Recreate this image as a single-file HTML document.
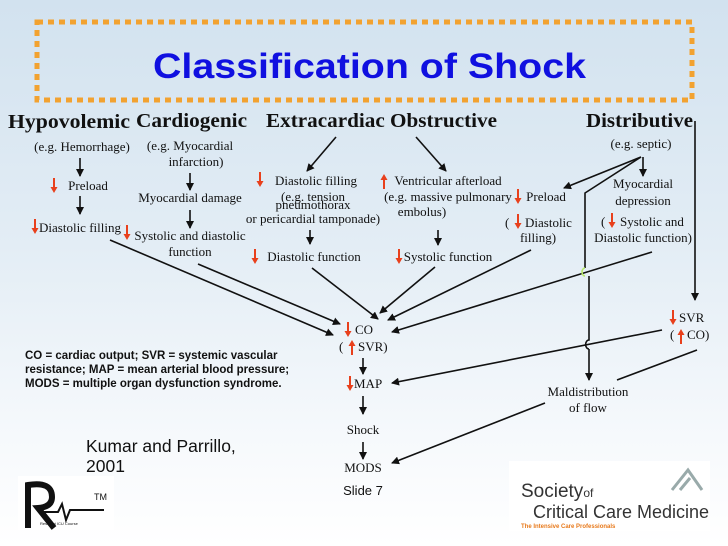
<!DOCTYPE html>
<html><head><meta charset="utf-8"><style>
html,body{margin:0;padding:0;}
body{width:728px;height:546px;overflow:hidden;background:linear-gradient(#d2e2ef 0%,#e3edf5 45%,#f6f9fc 80%,#fff 100%);}
svg{display:block}
.s{font-family:"Liberation Serif",serif;font-size:13px;fill:#111}
.h{font-family:"Liberation Serif",serif;font-size:20.5px;font-weight:bold;fill:#111}
.b{font-family:"Liberation Sans",sans-serif;font-size:11.5px;font-weight:bold;fill:#111}
</style></head><body>
<svg width="728" height="546" viewBox="0 0 728 546" xmlns="http://www.w3.org/2000/svg">
<defs>
<marker id="a" markerWidth="8" markerHeight="8" refX="7" refY="4" orient="auto" markerUnits="userSpaceOnUse"><path d="M0,0 L8,4 L0,8 z" fill="#111"/></marker>
<g id="rd"><line x1="0" y1="-8" x2="0" y2="2" stroke="#e8401c" stroke-width="2"/><path d="M-3.5,1 L3.5,1 L0,7 z" fill="#e8401c"/></g>
<g id="ru"><line x1="0" y1="8" x2="0" y2="-2" stroke="#e8401c" stroke-width="2"/><path d="M-3.5,-1 L3.5,-1 L0,-7 z" fill="#e8401c"/></g>
</defs>
<rect x="37" y="22" width="655" height="78" fill="none" stroke="#f2a230" stroke-width="5" stroke-dasharray="6,5"/>
<text x="153" y="78" textLength="433" lengthAdjust="spacingAndGlyphs" style="font-family:'Liberation Sans',sans-serif;font-weight:bold;font-size:35px;fill:#1010e0">Classification of Shock</text>

<text class="h" x="8" y="128" textLength="122" lengthAdjust="spacingAndGlyphs">Hypovolemic</text>
<text class="h" x="136" y="127" textLength="111" lengthAdjust="spacingAndGlyphs">Cardiogenic</text>
<text class="h" x="266" y="127" textLength="231" lengthAdjust="spacingAndGlyphs">Extracardiac Obstructive</text>
<text class="h" x="586" y="127" textLength="107" lengthAdjust="spacingAndGlyphs">Distributive</text>

<g text-anchor="middle" class="s">
<text x="82" y="151">(e.g. Hemorrhage)</text>
<text x="88" y="190">Preload</text>
<text x="80" y="232">Diastolic filling</text>
<text x="190" y="150">(e.g. Myocardial</text>
<text x="196" y="166">infarction)</text>
<text x="190" y="202">Myocardial damage</text>
<text x="190" y="240">Systolic and diastolic</text>
<text x="190" y="256">function</text>
<text x="316" y="185">Diastolic filling</text>
<text x="313" y="201">(e.g. tension</text>
<text x="313" y="209">pneumothorax</text>
<text x="313" y="223">or pericardial tamponade)</text>
<text x="314" y="261">Diastolic function</text>
<text x="448" y="185">Ventricular afterload</text>
<text x="448" y="201">(e.g. massive pulmonary</text>
<text x="422" y="216">embolus)</text>
<text x="448" y="261">Systolic function</text>
<text x="641" y="148">(e.g. septic)</text>
<text x="546" y="201">Preload</text>
<text x="538" y="242">filling)</text>
<text x="643" y="188">Myocardial</text>
<text x="643" y="205">depression</text>
<text x="643" y="242">Diastolic function)</text>
<text x="363" y="434">Shock</text>
<text x="363" y="472">MODS</text>
<text x="588" y="396">Maldistribution</text>
<text x="588" y="412">of flow</text>
</g>
<g class="s">
<text x="505" y="227">(</text><text x="525" y="227">Diastolic</text>
<text x="601" y="226">(</text><text x="620" y="226">Systolic and</text>
<text x="679" y="322">SVR</text>
<text x="670" y="339">(</text><text x="687" y="339">CO)</text>
<text x="355" y="334">CO</text>
<text x="339" y="351">(</text><text x="358" y="351">SVR)</text>
<text x="354" y="388">MAP</text>
</g>
<text x="363" y="495" text-anchor="middle" style="font-family:'Liberation Sans',sans-serif;font-size:13px;fill:#111">Slide 7</text>

<use href="#rd" x="54" y="186"/><use href="#rd" x="35" y="227"/><use href="#rd" x="127" y="233"/>
<use href="#rd" x="260" y="180"/><use href="#ru" x="384" y="181"/><use href="#rd" x="255" y="257"/>
<use href="#rd" x="399" y="257"/><use href="#rd" x="518" y="197"/><use href="#rd" x="518" y="222"/>
<use href="#rd" x="612" y="221"/><use href="#rd" x="673" y="318"/><use href="#ru" x="681" y="336"/>
<use href="#rd" x="348" y="330"/><use href="#ru" x="352" y="347"/><use href="#rd" x="350" y="384"/>

<g stroke="#111" stroke-width="1.6" fill="none" marker-end="url(#a)">
<line x1="80" y1="158" x2="80" y2="176"/>
<line x1="80" y1="196" x2="80" y2="214"/>
<line x1="190" y1="173" x2="190" y2="190"/>
<line x1="190" y1="210" x2="190" y2="228"/>
<line x1="336" y1="137" x2="307" y2="171"/>
<line x1="310" y1="230" x2="310" y2="244"/>
<line x1="416" y1="137" x2="446" y2="171"/>
<line x1="438" y1="230" x2="438" y2="245"/>
<line x1="641" y1="157" x2="564" y2="188"/>
<line x1="643" y1="157" x2="643" y2="176"/>
<line x1="695" y1="121" x2="695" y2="300"/>
<line x1="110" y1="240" x2="333" y2="335"/>
<line x1="198" y1="264" x2="340" y2="324"/>
<line x1="312" y1="268" x2="378" y2="319"/>
<line x1="435" y1="267" x2="380" y2="313"/>
<line x1="531" y1="250" x2="388" y2="320"/>
<line x1="652" y1="252" x2="392" y2="332"/>
<line x1="662" y1="330" x2="392" y2="383"/>
<line x1="545" y1="403" x2="392" y2="463"/>
<line x1="363" y1="358" x2="363" y2="374"/>
<line x1="363" y1="396" x2="363" y2="414"/>
<line x1="363" y1="442" x2="363" y2="459"/>
</g>
<g stroke="#111" stroke-width="1.6" fill="none">
<path d="M641,157 L585,193 L585,268"/>
<path d="M585,268 a3,4 0 0 0 0,8" stroke="#b8e86a"/>
<path d="M589,276 L589,340 a3,4 0 0 0 0,9"/>
<path d="M589,349 L589,380" marker-end="url(#a)"/>
<line x1="697" y1="350" x2="617" y2="380"/>
</g>

<text class="b" x="25" y="359">CO = cardiac output; SVR = systemic vascular</text>
<text class="b" x="25" y="373">resistance; MAP = mean arterial blood pressure;</text>
<text class="b" x="25" y="387">MODS = multiple organ dysfunction syndrome.</text>
<text x="86" y="452" style="font-family:'Liberation Sans',sans-serif;font-size:17.5px;fill:#111">Kumar and Parrillo,</text>
<text x="86" y="472" style="font-family:'Liberation Sans',sans-serif;font-size:17.5px;fill:#111">2001</text>

<rect x="18" y="476" width="96" height="54" fill="#fff"/>
<path d="M28,528 L28,485 Q52,481 52,497 Q52,507 38,508 L54,528" stroke="#111" stroke-width="6" fill="none"/>
<path d="M42,512 L58,512 L62,504 L66,520 L70,510 L104,510" stroke="#111" stroke-width="2" fill="none"/>
<text x="94" y="500" style="font-family:'Liberation Sans',sans-serif;font-size:9px;fill:#111">TM</text>
<text x="40" y="525" style="font-family:'Liberation Sans',sans-serif;font-size:4px;fill:#111">Resident ICU Course</text>

<rect x="509" y="461" width="201" height="70" fill="#fff"/>
<text x="521" y="497" style="font-family:'Liberation Sans',sans-serif;font-size:19px;fill:#333">Society<tspan font-size="12">of</tspan></text>
<text x="533" y="518" style="font-family:'Liberation Sans',sans-serif;font-size:18px;fill:#333">Critical Care Medicine</text>
<text x="521" y="528" style="font-family:'Liberation Sans',sans-serif;font-size:6px;font-weight:bold;fill:#e87a1c">The Intensive Care Professionals</text>
<path d="M672,490 L688,470 L702,490 M680,490 L690,478" stroke="#9aa" stroke-width="3" fill="none"/>
</svg>
</body></html>
